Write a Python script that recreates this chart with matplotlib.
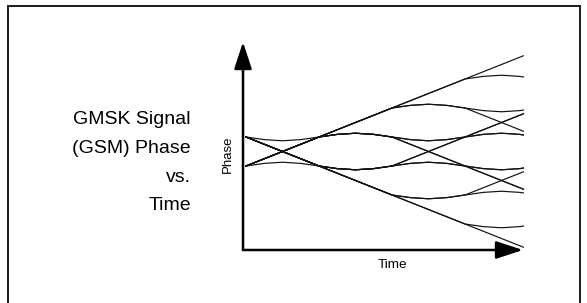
import matplotlib.pyplot as plt
from matplotlib.patches import FancyArrowPatch, Rectangle

plt.rcParams['font.family'] = ['Liberation Sans', 'DejaVu Sans']

# time in bit periods, phase in units of pi/2
t_bits = [0, 0.25, 0.5, 0.75, 1, 1.25, 1.5, 1.75, 2, 2.25, 2.5, 2.75, 3, 3.25, 3.5, 3.75, 3.8]

# one list per bit path: U = ramp up, D = ramp down, H = hump, V = dip
phase_uuuu = [0, .25, .5, .75, 1, 1.25, 1.5, 1.75, 2, 2.25, 2.5, 2.75, 3, 3.25, 3.5, 3.75, 3.8]
phase_dddd = [1, .75, .5, .25, 0, -.25, -.5, -.75, -1, -1.25, -1.5, -1.75, -2, -2.25, -2.5, -2.75, -2.8]
phase_uuuh = [0, .25, .5, .75, 1, 1.25, 1.5, 1.75, 2, 2.25, 2.5, 2.75, 3, 3.09, 3.13, 3.09, 3.07]
phase_uuhd = [0, .25, .5, .75, 1, 1.25, 1.5, 1.75, 2, 2.09, 2.13, 2.09, 2, 1.75, 1.5, 1.25, 1.2]
phase_uuhv = [0, .25, .5, .75, 1, 1.25, 1.5, 1.75, 2, 2.09, 2.13, 2.09, 2, 1.91, 1.87, 1.91, 1.93]
phase_uhdd = [0, .25, .5, .75, 1, 1.09, 1.13, 1.09, 1, .75, .5, .25, 0, -.25, -.5, -.75, -.8]
phase_uhdv = [0, .25, .5, .75, 1, 1.09, 1.13, 1.09, 1, .75, .5, .25, 0, -.09, -.13, -.09, -.07]
phase_uhvu = [0, .25, .5, .75, 1, 1.09, 1.13, 1.09, 1, .91, .87, .91, 1, 1.25, 1.5, 1.75, 1.8]
phase_vhvh = [1, .91, .87, .91, 1, 1.09, 1.13, 1.09, 1, .91, .87, .91, 1, 1.09, 1.13, 1.09, 1.07]
phase_dddv = [1, .75, .5, .25, 0, -.25, -.5, -.75, -1, -1.25, -1.5, -1.75, -2, -2.09, -2.13, -2.09, -2.07]
phase_ddvu = [1, .75, .5, .25, 0, -.25, -.5, -.75, -1, -1.09, -1.13, -1.09, -1, -.75, -.5, -.25, -.2]
phase_ddvh = [1, .75, .5, .25, 0, -.25, -.5, -.75, -1, -1.09, -1.13, -1.09, -1, -.91, -.87, -.91, -.93]
phase_dvuu = [1, .75, .5, .25, 0, -.09, -.13, -.09, 0, .25, .5, .75, 1, 1.25, 1.5, 1.75, 1.8]
phase_dvuh = [1, .75, .5, .25, 0, -.09, -.13, -.09, 0, .25, .5, .75, 1, 1.09, 1.13, 1.09, 1.07]
phase_dvhd = [1, .75, .5, .25, 0, -.09, -.13, -.09, 0, .09, .13, .09, 0, -.25, -.5, -.75, -.8]
phase_hvhv = [0, .09, .13, .09, 0, -.09, -.13, -.09, 0, .09, .13, .09, 0, -.09, -.13, -.09, -.07]

paths = [phase_uuuu, phase_dddd, phase_uuuh, phase_uuhd, phase_uuhv, phase_uhdd,
         phase_uhdv, phase_uhvu, phase_vhvh, phase_dddv, phase_ddvu, phase_ddvh,
         phase_dvuu, phase_dvuh, phase_dvhd, phase_hvhv]

title_lines = ["GMSK Signal", "(GSM) Phase", "vs.", "Time"]

W, H = 587, 303
fig = plt.figure(figsize=(W / 100, H / 100), dpi=100)

# axes box: y axis at x=243px, x axis at y=250px, arrow tips at 523px / 42px
ax = fig.add_axes([243 / W, (H - 250) / H, 280 / W, 208 / H])
for p in paths:
    ax.plot(t_bits, p, color='#111111', lw=0.85, clip_on=False)
ax.set_xlim(-3 / 73, 277 / 73)
ax.set_ylim(-84 / 29, 124 / 29)
ax.axis('off')

# axis arrows
for end in [(0, 1), (1, 0)]:
    ax.add_patch(FancyArrowPatch((0, 0), end, transform=ax.transAxes,
                                 arrowstyle='-|>,head_length=0.55,head_width=0.18',
                                 mutation_scale=30, lw=1.8, color='black',
                                 shrinkA=0, shrinkB=0, clip_on=False))

fig.text(228 / W, 1 - 154 / H, "Phase", rotation=90, ha='center', va='center', fontsize=9.5)
fig.text(392 / W, 1 - 265 / H, "Time", ha='center', va='center', fontsize=9.7)

for s, yb in zip(title_lines, [124, 153, 181.5, 210]):
    fig.text(191 / W, 1 - yb / H, s, ha='right', va='baseline', fontsize=14)

# frame round the figure, bottom edge runs off the picture
fig.add_artist(Rectangle((8 / W, -0.1), 572 / W, 1.1 - 6 / H, transform=fig.transFigure,
                         fill=False, lw=1.4, ec='#1a1a1a'))

fig.savefig("out.png", dpi=100)
